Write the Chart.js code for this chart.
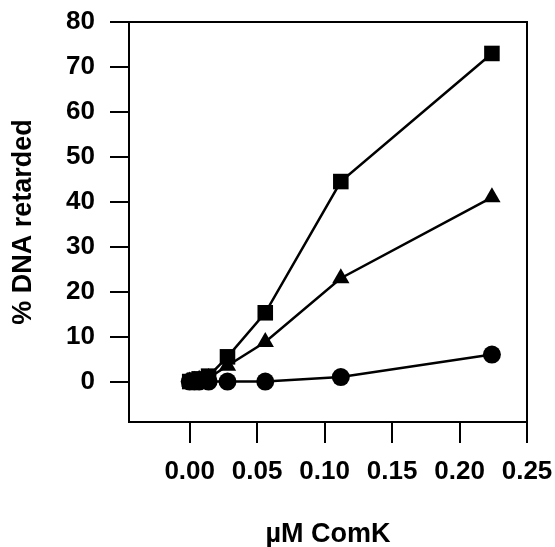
<!DOCTYPE html>
<html>
<head>
<meta charset="utf-8">
<script src="https://cdn.jsdelivr.net/npm/chart.js@4/dist/chart.umd.min.js"></script>
<style>
  html, body { margin: 0; padding: 0; background: #fff; }
  #wrap { width: 555px; height: 547px; }
</style>
</head>
<body>
<div id="wrap"><canvas id="retardChart" width="555" height="547"></canvas></div>
<script>
// ComK concentration (µM)
const comK = [0, 0.0035, 0.007, 0.014, 0.028, 0.056, 0.112, 0.224];
// % DNA retarded for the three probes
const squares = [0, 0.3, 0.6, 1.2, 5.5, 15.3, 44.5, 73];
const triangles = [0, 0.2, 0.4, 0.8, 3.5, 8.8, 23, 41];
const circles = [0, 0, 0, 0, 0, 0, 1, 6];

const xTicks = [0, 0.05, 0.1, 0.15, 0.2, 0.25];
const yTicks = [0, 10, 20, 30, 40, 50, 60, 70, 80];

const toPoints = (ys) => comK.map((x, i) => ({ x: x, y: ys[i] }));

const font = 'Liberation Sans, Arial, Helvetica, sans-serif';

// box round the plot area (top and right sides)
const frame = {
  id: 'frame',
  afterDraw(chart) {
    const { ctx, chartArea: a } = chart;
    ctx.save();
    ctx.strokeStyle = '#000';
    ctx.lineWidth = 2;
    ctx.strokeRect(a.left, a.top, a.right - a.left, a.bottom - a.top);
    ctx.restore();
  }
};

// fixed scale size, no extra room for overflowing labels
const fixSize = (prop, size) => (s) => {
  s[prop] = size;
  s.paddingLeft = s.paddingRight = s.paddingTop = s.paddingBottom = 0;
};

const series = (label, ys, style, r) => ({
  label: label,
  data: toPoints(ys),
  showLine: true,
  borderColor: '#000',
  backgroundColor: '#000',
  borderWidth: 2.5,
  pointStyle: style,
  pointRadius: r,
  pointHoverRadius: r,
  pointBorderWidth: 0,
  clip: false
});

const ctx = document.getElementById('retardChart').getContext('2d');
new Chart(ctx, {
  type: 'scatter',
  data: {
    datasets: [
      series('square', squares, 'rect', 11),
      series('triangle', triangles, 'triangle', 10),
      series('circle', circles, 'circle', 9)
    ]
  },
  options: {
    responsive: false,
    animation: false,
    layout: { padding: { top: 22, right: 28, bottom: 0, left: 0 } },
    plugins: { legend: { display: false }, tooltip: { enabled: false } },
    scales: {
      x: {
        type: 'linear',
        min: -0.045,
        max: 0.25,
        afterBuildTicks: (s) => { s.ticks = xTicks.map(v => ({ value: v })); },
        afterFit: fixSize('height', 125),
        border: { display: true, color: '#000', width: 2 },
        grid: { drawOnChartArea: false, drawTicks: true, tickLength: 21, color: '#000', lineWidth: 2 },
        ticks: {
          color: '#000',
          padding: 13,
          maxRotation: 0,
          font: { family: font, size: 26, weight: 'bold' },
          callback: (v) => Number(v).toFixed(2)
        },
        title: {
          display: true,
          text: 'µM ComK',
          color: '#000',
          padding: { top: 0, bottom: -1 },
          font: { family: font, size: 27, weight: 'bold', lineHeight: 1 }
        }
      },
      y: {
        type: 'linear',
        min: -9,
        max: 80,
        afterBuildTicks: (s) => { s.ticks = yTicks.map(v => ({ value: v })); },
        afterFit: fixSize('width', 129),
        border: { display: true, color: '#000', width: 2 },
        grid: { drawOnChartArea: false, drawTicks: true, tickLength: 19, color: '#000', lineWidth: 2 },
        ticks: {
          color: '#000',
          padding: 15,
          font: { family: font, size: 26, weight: 'bold' }
        },
        title: {
          display: true,
          text: '% DNA retarded',
          color: '#000',
          padding: { top: 10, bottom: 0 },
          font: { family: font, size: 27, weight: 'bold', lineHeight: 1 }
        }
      }
    }
  },
  plugins: [frame]
});
</script>
</body>
</html>
